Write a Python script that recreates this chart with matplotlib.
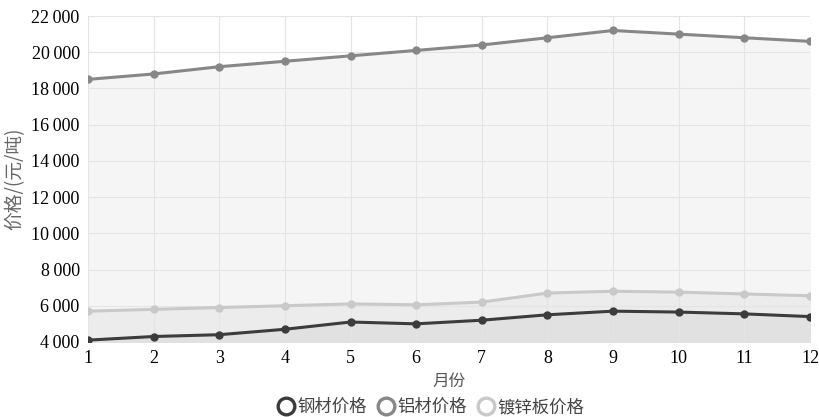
import numpy as np
import matplotlib.pyplot as plt
from matplotlib.lines import Line2D

# data
months = [1, 2, 3, 4, 5, 6, 7, 8, 9, 10, 11, 12]
steel = [4100, 4300, 4400, 4700, 5100, 5000, 5200, 5500, 5700, 5650, 5550, 5400]
aluminium = [18500, 18800, 19200, 19500, 19800, 20100, 20400, 20800, 21200, 21000, 20800, 20600]
galvanized = [5700, 5800, 5900, 6000, 6100, 6050, 6200, 6700, 6800, 6750, 6650, 6550]
names = ["钢材价格", "铝材价格", "镀锌板价格"]
yticks = list(range(4000, 22001, 2000))

cjk = ["Noto Sans CJK SC", "DejaVu Sans"]
serif = "Liberation Serif"

fig = plt.figure(figsize=(8.19, 4.17), dpi=100)
ax = fig.add_axes([0.1074, 0.18, 0.8816, 0.7816])

# fills first, lightest (top) series at the back
ax.fill_between(months, 4000, aluminium, color="#f5f5f5", zorder=1)
ax.fill_between(months, 4000, galvanized, color="#ececec", zorder=1)
ax.fill_between(months, 4000, steel, color="#e1e1e1", zorder=1)

ax.plot(months, aluminium, color="#878787", lw=2.2, marker="o", ms=5, zorder=3)
ax.plot(months, galvanized, color="#c9c9c9", lw=2.2, marker="o", ms=5, zorder=3)
ax.plot(months, steel, color="#3c3c3c", lw=2.2, marker="o", ms=5, zorder=3)

ax.set_xlim(1, 12)
ax.set_ylim(4000, 22000)
ax.set_xticks(months)
ax.set_xticklabels([str(m) for m in months], fontfamily=serif, fontsize=13)
ax.set_yticks(yticks)
ax.set_yticklabels(["{:,}".format(v).replace(",", "\u2009") for v in yticks],
                   fontfamily=serif, fontsize=13)
ax.tick_params(length=0, pad=6)
for s in ax.spines.values():
    s.set_visible(False)
ax.grid(True, color="#e4e4e4", lw=0.8, zorder=2)
ax.set_axisbelow(False)

ax.set_xlabel("月份", family=cjk, fontsize=12, color="#555555", labelpad=4)
ax.set_ylabel("价格/(元/吨)", family=cjk, fontsize=13.5, color="#666666", labelpad=4)

handles = [Line2D([], [], ls="none", marker="o", ms=12, mfc="white", mew=2.4, mec=c)
           for c in ["#3c3c3c", "#878787", "#c9c9c9"]]
leg = fig.legend(handles, names, loc="lower center", bbox_to_anchor=(0.525, -0.035),
                 ncol=3, frameon=False, prop={"family": cjk, "size": 12.5},
                 handletextpad=0.05, columnspacing=0.5, handlelength=1.2)
for t in leg.get_texts():
    t.set_color("#444444")

fig.savefig("out.png", dpi=100)
